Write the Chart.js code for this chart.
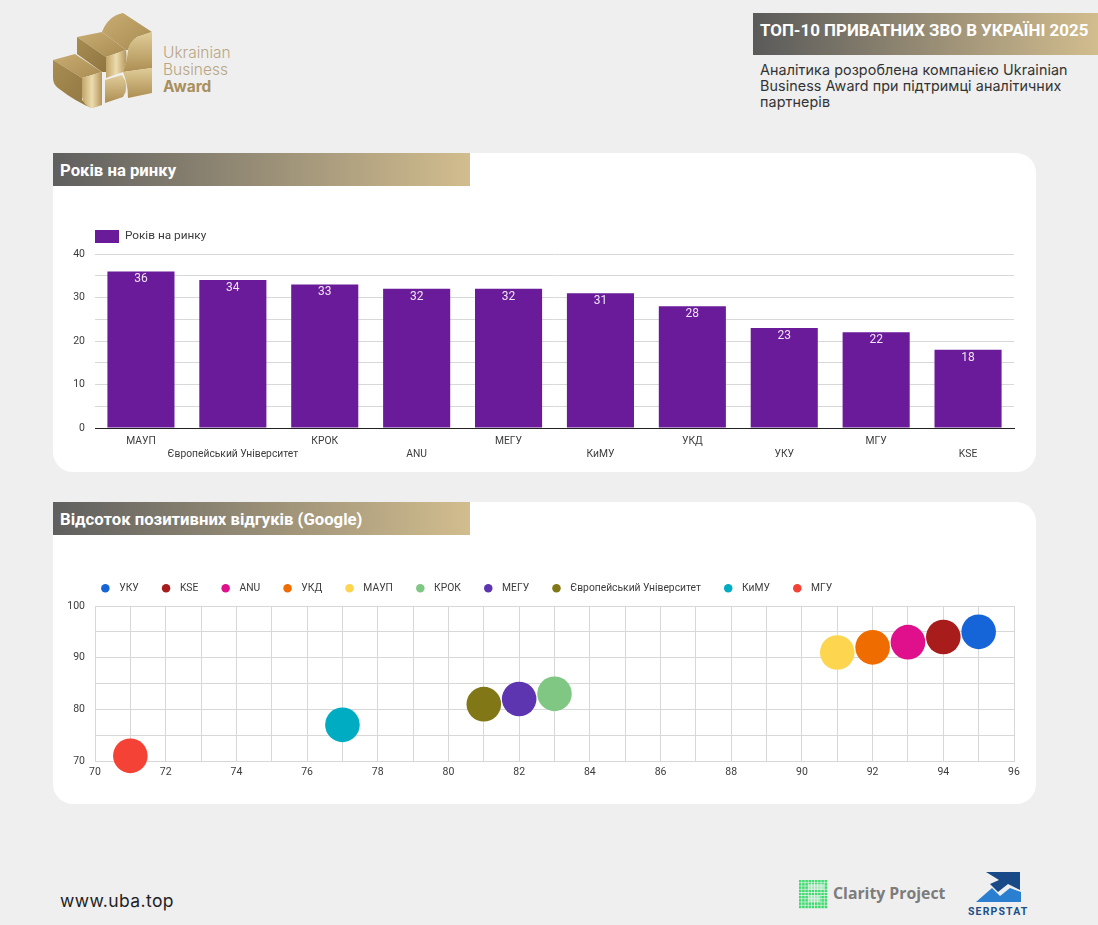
<!DOCTYPE html>
<html lang="uk">
<head>
<meta charset="utf-8">
<title>ТОП-10 приватних ЗВО в Україні 2025</title>
<script src="https://cdn.jsdelivr.net/npm/chart.js@4/dist/chart.umd.min.js"></script>
<style>
  html, body { margin: 0; padding: 0; }
  body { width: 1098px; height: 925px; background: #efefef; position: relative; overflow: hidden; font-family: Roboto, sans-serif; }
  .abs { position: absolute; }
  .card { position: absolute; left: 53px; width: 983px; background: #fff; border-radius: 20px; }
  .bar { position: absolute; left: 53px; width: 417px; height: 33px; line-height: 35px; padding-left: 7px; box-sizing: border-box;
         background: linear-gradient(90deg, #5f5f5f 0%, #d2bd8e 100%); color: #fff; font-weight: 700; font-size: 16.7px; }
  .banner { position: absolute; left: 753px; top: 13px; width: 345px; height: 42px; line-height: 35px; padding: 0 0 0 7px; box-sizing: border-box;
            background: linear-gradient(90deg, #5a5a5a 0%, #d2bd8e 100%); color: #fff; font-weight: 700; font-size: 16.9px; white-space: nowrap; }
  .note { position: absolute; left: 760px; top: 62px; width: 330px; font-family: Inter, sans-serif; font-size: 14.3px; line-height: 16px; color: #333; letter-spacing: .1px; }
  .brand { position: absolute; left: 163px; top: 44px; font-family: Inter, sans-serif; font-size: 15.5px; line-height: 17px; color: #b9a582; font-weight: 300; }
  .brand b { font-weight: 700; color: #a98f5e; }
  .site { position: absolute; left: 60px; top: 890px; font-family: Inter, sans-serif; font-size: 17.5px; color: #222; letter-spacing: .4px; }
  canvas { position: absolute; }
</style>
</head>
<body>
<svg class="abs" style="left:50px;top:10px" width="110" height="102" viewBox="50 10 110 102">
  <defs>
    <linearGradient id="g1" x1="0" y1="0" x2="1" y2="1"><stop offset="0" stop-color="#a88c52"/><stop offset="1" stop-color="#8f7640"/></linearGradient>
    <linearGradient id="g2" x1="0" y1="0" x2="1" y2="0"><stop offset="0" stop-color="#c2a568"/><stop offset=".5" stop-color="#ecdcae"/><stop offset="1" stop-color="#b4945a"/></linearGradient>
    <linearGradient id="g3" x1="0" y1="0" x2="0" y2="1"><stop offset="0" stop-color="#e0cc98"/><stop offset="1" stop-color="#ad8e52"/></linearGradient>
    <linearGradient id="g4" x1="0" y1="0" x2="1" y2="1"><stop offset="0" stop-color="#c9ac72"/><stop offset="1" stop-color="#a98c52"/></linearGradient>
  </defs>
  <path d="M102 32 Q108 16 123 13 L152 32 L137 37 Q130 42 128 50 L126 50 Z" fill="url(#g4)"/>
  <path d="M128 50 Q130 41 137 37 L152 32 L152 68 L123 72 Q127 62 128 50 Z" fill="url(#g3)"/>
  <path d="M123 72 L152 68 L152 93 L128 98 Q128 84 123 72 Z" fill="url(#g3)"/>
  <path d="M77 37 L102 32 L126 50 L106 57 Z" fill="url(#g4)"/>
  <path d="M77 37 L106 57 L106 72 L102 72 L77 54 Z" fill="url(#g1)"/>
  <path d="M106 57 L126 50 Q128 62 123 72 L106 78 Z" fill="url(#g2)"/>
  <path d="M105 80 L122 75 Q130 86 123 97 L105 103 Z" fill="url(#g3)"/>
  <path d="M53 60 L75 54 L102 72 L82 78 Z" fill="url(#g4)"/>
  <path d="M53 60 L82 78 L82 100 L92 108 Q76 102 58 88 Q53 84 53 78 Z" fill="url(#g1)"/>
  <path d="M82 78 L102 72 L102 105 L93 108 Q83 106 82 97 Z" fill="url(#g2)"/>
</svg>
<div class="brand">Ukrainian<br>Business<br><b>Award</b></div>
<div class="banner">ТОП-10 ПРИВАТНИХ ЗВО В УКРАЇНІ 2025</div>
<div class="note">Аналітика розроблена компанією Ukrainian Business Award при підтримці аналітичних партнерів</div>

<div class="card" style="top:153px;height:319px"></div>
<div class="bar" style="top:153px">Років на ринку</div>
<canvas id="yearsChart" style="left:53px;top:215px"></canvas>

<div class="card" style="top:502px;height:302px"></div>
<div class="bar" style="top:502px">Відсоток позитивних відгуків (Google)</div>
<canvas id="reviewsChart" style="left:53px;top:560px"></canvas>

<div class="site">www.uba.top</div>
<svg class="abs" style="left:790px;top:870px" width="250" height="50" viewBox="790 870 250 50">
  <defs><pattern id="dots" x="799" y="880" width="3.2" height="3.2" patternUnits="userSpaceOnUse"><rect width="2.5" height="2.5" fill="#3fdc70"/></pattern></defs>
  <rect x="799" y="880" width="29" height="29" fill="url(#dots)"/>
  <rect x="808" y="884" width="16" height="6" fill="#efefef" opacity=".6"/>
  <rect x="808" y="896" width="12" height="6" fill="#efefef" opacity=".6"/>
  <text x="833" y="899" font-family="Open Sans" font-weight="700" font-size="15.8" fill="#7c7c7c">Clarity Project</text>
  <path d="M986 872 L1020 872 L1020 890 L1008 884 L998 892 L990 884 L999 880 Z" fill="#174a86"/>
  <path d="M976 902 L992 888 L1000 896 L1010 888 L1021 892 L1021 902 Z" fill="#2a7fd0"/>
  <text x="968" y="915" font-family="Roboto" font-weight="700" font-size="10.5" letter-spacing="1.15" fill="#1c4f8a">SERPSTAT</text>
</svg>

<script>
  // Років на ринку
  var universities = ['МАУП', 'Європейський Університет', 'КРОК', 'ANU', 'МЕГУ', 'КиМУ', 'УКД', 'УКУ', 'МГУ', 'KSE'];
  var yearsOnMarket = [36, 34, 33, 32, 32, 31, 28, 23, 22, 18];

  // Відсоток позитивних відгуків (Google)
  var reviewNames = ['УКУ', 'KSE', 'ANU', 'УКД', 'МАУП', 'КРОК', 'МЕГУ', 'Європейський Університет', 'КиМУ', 'МГУ'];
  var reviewX = [95, 94, 93, 92, 91, 83, 82, 81, 77, 71];
  var reviewY = [95, 94, 93, 92, 91, 83, 82, 81, 77, 71];
  var reviewColors = ['#1565d8', '#a81c1c', '#e0108c', '#ef6c00', '#fdd54f', '#81c784', '#5e35b1', '#827717', '#00acc1', '#f44336'];

  var tickColor = '#3c3c3c';
  var gridColor = '#d8d8d8';

  Chart.defaults.animation = false;
  Chart.defaults.responsive = false;
  Chart.defaults.devicePixelRatio = 1;

  // legend box is pinned so legend and plot start where they do in the picture
  function legendBox(h, left) {
    return {
      id: 'legendBox',
      beforeLayout: function (chart) {
        var fit = chart.legend.fit;
        chart.legend.fit = function () {
          fit.call(this);
          this.height = h;
        };
      },
      afterLayout: function (chart) {
        chart.legend.left = left;
      }
    };
  }

  var barValues = {
    id: 'barValues',
    afterDatasetsDraw: function (chart) {
      var ctx = chart.ctx;
      var meta = chart.getDatasetMeta(0);
      ctx.save();
      ctx.font = '12px Roboto';
      ctx.fillStyle = '#f0e4f5';
      ctx.textAlign = 'center';
      ctx.textBaseline = 'middle';
      meta.data.forEach(function (bar, i) {
        ctx.fillText(yearsOnMarket[i], bar.x, bar.y + 8);
      });
      ctx.restore();
    }
  };

  var canvas1 = document.getElementById('yearsChart');
  canvas1.width = 983;
  canvas1.height = 255;
  new Chart(canvas1.getContext('2d'), {
    type: 'bar',
    data: {
      labels: universities,
      datasets: [{
        label: 'Років на ринку',
        data: yearsOnMarket,
        backgroundColor: '#6a1b9a',
        borderWidth: 0,
        barPercentage: 0.73,
        categoryPercentage: 1
      }]
    },
    options: {
      layout: { padding: { left: 0, right: 22, top: 15, bottom: 0 } },
      plugins: {
        tooltip: { enabled: false },
        legend: {
          position: 'top',
          align: 'start',
          labels: { boxWidth: 24, boxHeight: 13, padding: 0, color: tickColor, font: { family: 'Roboto', size: 11.8 } }
        }
      },
      scales: {
        x: {
          afterFit: function (scale) { scale.height = 42; },
          grid: { display: false, drawTicks: false },
          border: { color: '#222', width: 1 },
          ticks: {
            autoSkip: false,
            maxRotation: 0,
            padding: 7,
            color: tickColor,
            font: { family: 'Roboto', size: 10.3, lineHeight: 1.26 },
            callback: function (value, index) {
              return index % 2 ? ['', universities[index]] : universities[index];
            }
          }
        },
        y: {
          min: 0,
          max: 40,
          afterFit: function (scale) { scale.width = 42; },
          grid: { color: gridColor, drawTicks: false },
          border: { display: false },
          ticks: {
            stepSize: 5,
            padding: 10,
            color: tickColor,
            font: { family: 'Roboto', size: 10.5 },
            callback: function (value) { return value % 10 === 0 ? value : ''; }
          }
        }
      }
    },
    plugins: [legendBox(24, 42), barValues]
  });

  var canvas2 = document.getElementById('reviewsChart');
  canvas2.width = 983;
  canvas2.height = 240;
  new Chart(canvas2.getContext('2d'), {
    type: 'scatter',
    data: {
      datasets: reviewNames.map(function (name, i) {
        return {
          label: name,
          data: [{ x: reviewX[i], y: reviewY[i] }],
          backgroundColor: reviewColors[i],
          borderWidth: 0,
          pointRadius: 17.3,
          clip: false
        };
      })
    },
    options: {
      layout: { padding: { left: 0, right: 22, top: 1, bottom: 0 } },
      plugins: {
        tooltip: { enabled: false },
        legend: {
          position: 'top',
          align: 'start',
          labels: {
            usePointStyle: true,
            boxWidth: 11,
            boxHeight: 6,
            padding: 22.2,
            color: tickColor,
            font: { family: 'Roboto', size: 10.3 },
            generateLabels: function (chart) {
              return Chart.defaults.plugins.legend.labels.generateLabels(chart).map(function (item) {
                item.text = '\u2004' + item.text;
                return item;
              });
            }
          }
        }
      },
      scales: {
        x: {
          min: 70,
          max: 96,
          afterFit: function (scale) { scale.height = 39; },
          grid: { color: gridColor, drawTicks: false },
          border: { color: gridColor },
          ticks: {
            stepSize: 1,
            autoSkip: false,
            maxRotation: 0,
            padding: 5,
            color: tickColor,
            font: { family: 'Roboto', size: 10.5 },
            callback: function (value) { return value % 2 === 0 ? value : ''; }
          }
        },
        y: {
          min: 70,
          max: 100,
          afterFit: function (scale) { scale.width = 42; },
          grid: { color: gridColor, drawTicks: false },
          border: { color: gridColor },
          ticks: {
            stepSize: 5,
            padding: 10,
            color: tickColor,
            font: { family: 'Roboto', size: 10.5 },
            callback: function (value) { return value % 10 === 0 ? value : ''; }
          }
        }
      }
    },
    plugins: [legendBox(45, 25)]
  });
</script>
</body>
</html>
